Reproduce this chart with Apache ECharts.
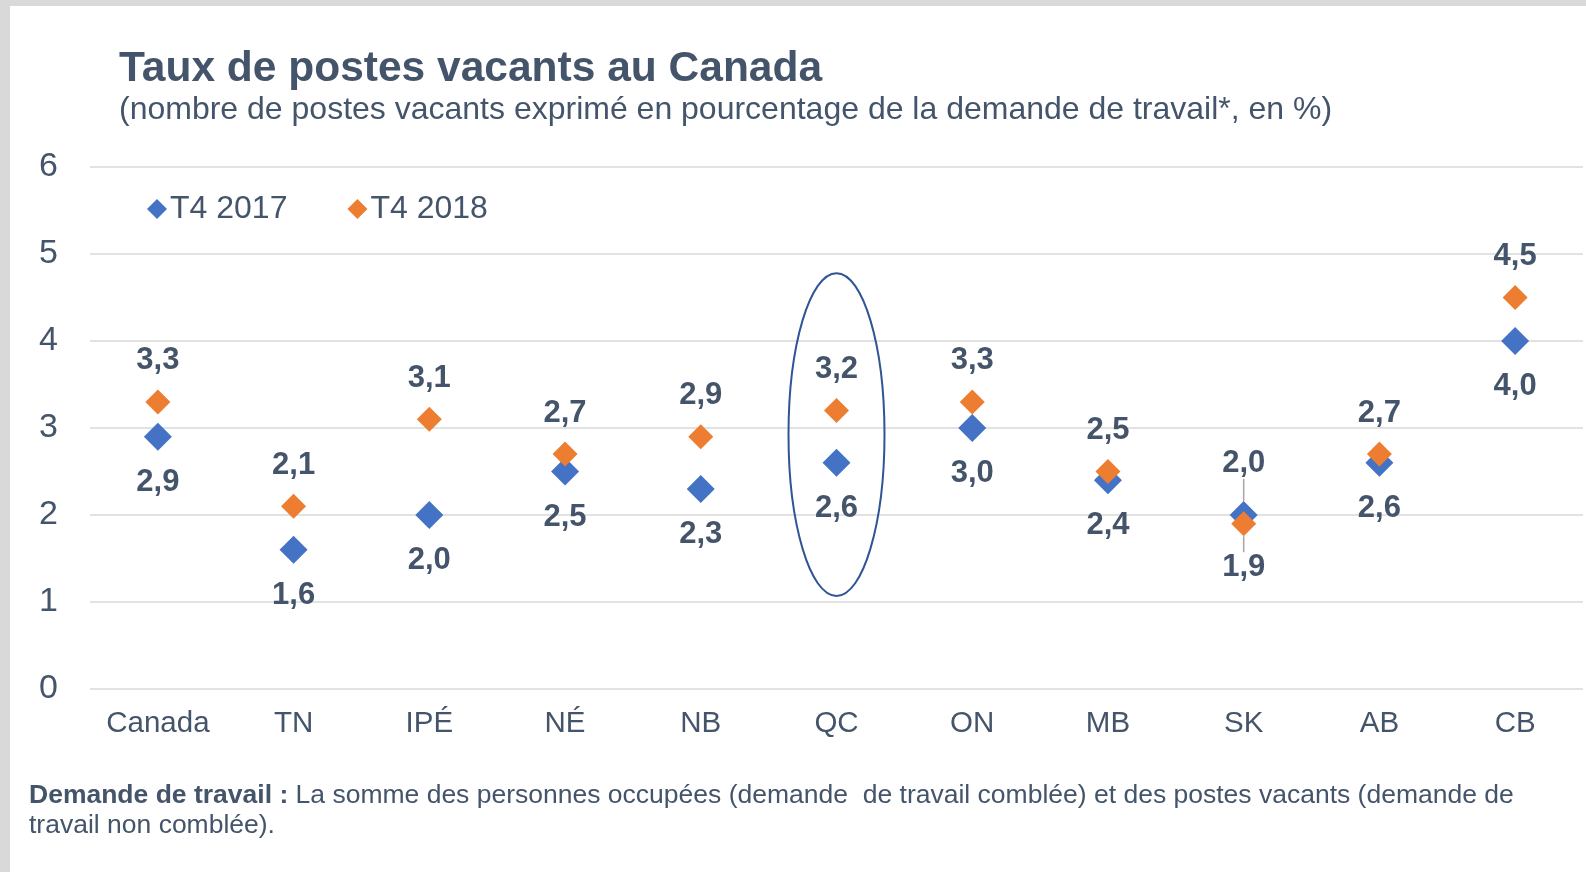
<!DOCTYPE html>
<html>
<head>
<meta charset="utf-8">
<script src="https://cdn.jsdelivr.net/npm/echarts@6/dist/echarts.min.js"></script>
<style>
  html, body { margin: 0; padding: 0; background: #d9d9d9; }
  #chart { position: absolute; left: 10px; top: 6px; width: 1576px; height: 866px; background: #fff; }
</style>
</head>
<body>
<div id="chart"></div>
<script>
// categories and values (taux de postes vacants, %)
const categories = ['Canada', 'TN', 'IPÉ', 'NÉ', 'NB', 'QC', 'ON', 'MB', 'SK', 'AB', 'CB']
const t4_2017 = [2.9, 1.6, 2.0, 2.5, 2.3, 2.6, 3.0, 2.4, 2.0, 2.6, 4.0]
const t4_2018 = [3.3, 2.1, 3.1, 2.7, 2.9, 3.2, 3.3, 2.5, 1.9, 2.7, 4.5]
const yTicks = [0, 1, 2, 3, 4, 5, 6]
// ellipse drawn around QC (category, low, high)
const highlight = [['QC', 1.07, 4.78]]

const textColor = '#44546A'
const fontFamily = '"Liberation Sans", Arial, sans-serif'
const swapped = categories.indexOf('SK') // labels flipped for this province

const fmt = (p) => p.value.toFixed(1).replace('.', ',')

const chart = echarts.init(document.getElementById('chart'))

chart.setOption({
  textStyle: { fontFamily: fontFamily },
  animation: false,
  title: [
    {
      left: 109,
      top: 42,
      padding: 0,
      itemGap: 3,
      text: 'Taux de postes vacants au Canada',
      textStyle: { fontSize: 42.5, lineHeight: 42, fontWeight: 'bold', color: textColor, fontFamily: fontFamily },
      subtext: '(nombre de postes vacants exprimé en pourcentage de la demande de travail*, en %)',
      subtextStyle: { fontSize: 32, lineHeight: 32, color: textColor, fontFamily: fontFamily }
    },
    {
      left: 19,
      top: 775,
      padding: 0,
      text: '{b|Demande de travail :} La somme des personnes occupées (demande  de travail comblée) et des postes vacants (demande de\ntravail non comblée).',
      textStyle: {
        fontSize: 26.5, lineHeight: 30, fontWeight: 'normal', color: textColor, fontFamily: fontFamily,
        rich: { b: { fontSize: 26.5, lineHeight: 30, fontWeight: 'bold', color: textColor, fontFamily: fontFamily } }
      }
    }
  ],
  legend: {
    data: ['T4 2017', 'T4 2018'],
    left: 137,
    top: 187,
    padding: 0,
    icon: 'diamond',
    itemWidth: 20,
    itemHeight: 20,
    itemGap: 60,
    itemStyle: { opacity: 1 },
    textStyle: { fontSize: 32, color: textColor, padding: [0, 0, 0, -2] }
  },
  grid: { left: 80, right: 3, top: 161, bottom: 183, containLabel: false },
  xAxis: {
    type: 'category',
    data: categories,
    boundaryGap: true,
    axisLine: { show: false },
    axisTick: { show: false },
    axisLabel: { fontSize: 29.5, color: textColor, margin: 20 }
  },
  yAxis: {
    type: 'value',
    min: yTicks[0],
    max: yTicks[yTicks.length - 1],
    interval: 1,
    axisLine: { show: false },
    axisTick: { show: false },
    axisLabel: { fontSize: 34, color: textColor, margin: 32 },
    splitLine: { lineStyle: { color: '#d9d9d9', width: 1.5 } }
  },
  series: [
    {
      name: 'T4 2017',
      type: 'scatter',
      symbol: 'diamond',
      symbolSize: 28,
      itemStyle: { color: '#4472C4', opacity: 1 },
      data: t4_2017.map((v, i) => i === swapped
        ? { value: v, label: { position: 'top' }, labelLine: { show: true } }
        : v),
      label: {
        show: true, position: 'bottom', distance: 16, formatter: fmt,
        fontSize: 31, fontWeight: 'bold', color: textColor
      },
      labelLine: { show: false, lineStyle: { color: '#a6a6a6', width: 1.5 } },
      labelLayout: (p) => p.dataIndex === swapped ? { dy: -6 } : {}
    },
    {
      name: 'T4 2018',
      type: 'scatter',
      symbol: 'diamond',
      symbolSize: 25,
      itemStyle: { color: '#ED7D31', opacity: 1 },
      data: t4_2018.map((v, i) => i === swapped
        ? { value: v, label: { position: 'bottom' }, labelLine: { show: true } }
        : v),
      label: {
        show: true, position: 'top', distance: 13, formatter: fmt,
        fontSize: 31, fontWeight: 'bold', color: textColor
      },
      labelLine: { show: false, lineStyle: { color: '#a6a6a6', width: 1.5 } },
      labelLayout: (p) => p.dataIndex === swapped ? { dy: 3 } : {}
    },
    {
      name: 'highlight',
      type: 'custom',
      silent: true,
      z: 5,
      encode: { x: 0, y: [1, 2] },
      data: highlight,
      renderItem: (params, api) => {
        const top = api.coord([api.value(0), api.value(2)])
        const bottom = api.coord([api.value(0), api.value(1)])
        return {
          type: 'ellipse',
          shape: { cx: top[0], cy: (top[1] + bottom[1]) / 2, rx: 48, ry: (bottom[1] - top[1]) / 2 },
          style: { fill: 'none', stroke: '#2F5597', lineWidth: 2 }
        }
      }
    }
  ]
})
</script>
</body>
</html>
